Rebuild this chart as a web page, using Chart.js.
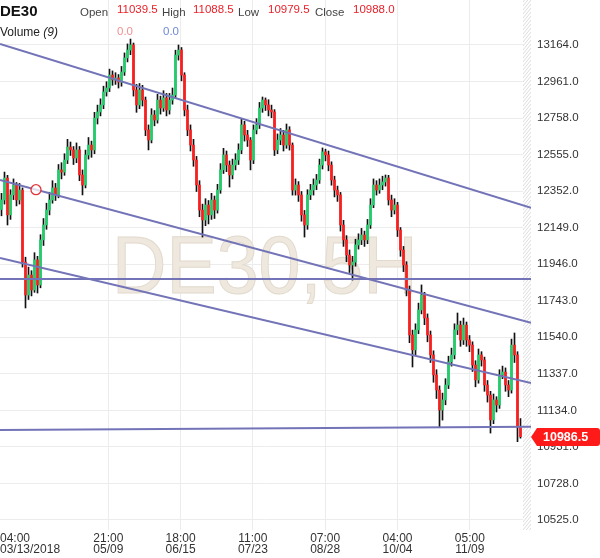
<!DOCTYPE html>
<html><head><meta charset="utf-8">
<script src="https://cdn.jsdelivr.net/npm/chart.js@4.4.0/dist/chart.umd.min.js"></script>
<style>html,body{margin:0;padding:0;background:#fff;}canvas{display:block;}</style>
</head><body>
<canvas id="c" width="600" height="558"></canvas>
<script>
const symbol = 'DE30';
const openVals = [
12250,12303,12425,12220,12331,12386,12303,12358,11958,11775,
11886,11803,11970,11831,12081,12164,12247,12303,12370,12331,
12470,12458,12525,12597,12581,12536,12581,12442,12386,12553,
12608,12581,12758,12792,12831,12903,12925,12997,12970,12981,
12958,13014,13092,13136,13164,12914,12831,12914,12858,12692,
12636,12775,12747,12858,12814,12870,12803,12858,12886,13108,
13136,12997,12803,12692,12608,12525,12386,12247,12192,12275,
12220,12303,12247,12358,12470,12553,12497,12442,12497,12525,
12581,12720,12664,12636,12525,12692,12720,12814,12858,12831,
12803,12792,12581,12636,12664,12608,12692,12608,12358,12386,
12331,12220,12164,12331,12358,12386,12414,12497,12570,12553,
12497,12414,12358,12331,12164,12081,11997,11942,11958,12053,
12081,12108,12081,12164,12275,12386,12358,12386,12403,12425,
12303,12247,12275,12136,12025,11942,11803,11553,11470,11581,
11692,11775,11647,11553,11442,11331,11247,11136,11192,11275,
11403,11442,11581,11608,11525,11608,11525,11497,11386,11303,
11442,11414,11275,11219,11081,11192,11164,11331,11347,11275,
11247,11497,11442,11039.5];
const highVals = [
12340,12458,12440,12360,12420,12400,12395,12370,11985,11930,
11910,12010,11990,12110,12200,12285,12345,12410,12395,12500,
12510,12560,12640,12625,12600,12620,12600,12470,12580,12650,
12630,12790,12830,12865,12935,12960,13030,13020,13010,13000,
13045,13120,13170,13197,13175,12945,12950,12940,12875,12720,
12810,12800,12890,12880,12910,12895,12895,12925,13135,13164,
13150,13010,12830,12720,12640,12545,12410,12280,12310,12300,
12340,12325,12390,12505,12590,12575,12520,12530,12560,12615,
12755,12740,12690,12650,12720,12755,12845,12875,12870,12860,
12830,12805,12670,12700,12690,12725,12710,12620,12420,12405,
12350,12245,12360,12390,12420,12445,12530,12592,12585,12575,
12515,12435,12380,12345,12190,12105,12025,11990,12085,12115,
12145,12130,12195,12310,12420,12410,12420,12435,12442,12440,
12330,12310,12290,12150,12045,11960,11825,11580,11615,11730,
11831,11790,11670,11575,11465,11360,11270,11230,11310,11435,
11480,11615,11675,11630,11647,11625,11550,11515,11410,11475,
11460,11430,11300,11240,11225,11210,11360,11380,11370,11300,
11530,11564,11460,11088.5];
const lowVals = [
12215,12280,12164,12195,12305,12270,12280,11930,11703,11750,
11770,11790,11786,11815,12050,12140,12220,12285,12300,12315,
12420,12440,12505,12550,12500,12510,12410,12331,12370,12530,
12540,12560,12725,12770,12810,12880,12905,12940,12945,12925,
12935,12995,13070,13110,12880,12790,12810,12825,12660,12581,
12620,12715,12730,12780,12795,12770,12780,12835,12870,13080,
12965,12770,12660,12575,12490,12350,12210,12097,12160,12170,
12195,12200,12230,12340,12450,12460,12375,12420,12470,12500,
12560,12630,12600,12470,12505,12670,12700,12790,12800,12770,
12760,12550,12560,12610,12575,12590,12580,12330,12330,12295,
12185,12097,12140,12305,12330,12360,12395,12475,12520,12465,
12385,12320,12295,12130,12045,11960,11900,11858,11935,12030,
12055,12045,12060,12145,12260,12330,12340,12360,12380,12275,
12210,12225,12100,11990,11905,11770,11510,11375,11440,11560,
11670,11610,11515,11400,11290,11200,11042,11080,11165,11255,
11380,11420,11555,11490,11500,11490,11460,11350,11265,11285,
11380,11240,11180,11008,11060,11125,11145,11310,11240,11210,
11230,11400,10960,10979.5];
const closeVals = [
12303,12425,12220,12331,12386,12303,12358,11958,11775,11886,
11803,11970,11831,12081,12164,12247,12303,12370,12331,12470,
12458,12525,12597,12581,12536,12581,12442,12386,12553,12608,
12581,12758,12792,12831,12903,12925,12997,12970,12981,12958,
13014,13092,13136,13164,12914,12831,12914,12858,12692,12636,
12775,12747,12858,12814,12870,12803,12858,12886,13108,13136,
12997,12803,12692,12608,12525,12386,12247,12192,12275,12220,
12303,12247,12358,12470,12553,12497,12442,12497,12525,12581,
12720,12664,12636,12525,12692,12720,12814,12858,12831,12803,
12792,12581,12636,12664,12608,12692,12608,12358,12386,12331,
12220,12164,12331,12358,12386,12414,12497,12570,12553,12497,
12414,12358,12331,12164,12081,11997,11942,11958,12053,12081,
12108,12081,12164,12275,12386,12358,12386,12403,12425,12303,
12247,12275,12136,12025,11942,11803,11553,11470,11581,11692,
11775,11647,11553,11442,11331,11247,11136,11192,11275,11403,
11442,11581,11608,11525,11608,11525,11497,11386,11303,11442,
11414,11275,11219,11081,11192,11164,11331,11347,11275,11247,
11497,11442,11039.5,10988];

const yTicks = [10525,10728,10931,11134,11337,11540,11743,11946,12149,12352,12555,12758,12961,13164];
const yMin = 10469.4, yMax = 13414;
const timeLabels = ['04:00','21:00','18:00','11:00','07:00','04:00','05:00'];
const dateLabels = ['03/13/2018','05/09','06/15','07/23','08/28','10/04','11/09'];
const labelPos = [-0.5, 35.6, 59.7, 83.8, 107.9, 132.0, 156.1];
const emptySlots = 3;
const trendStart = [13170, 12414, 11981, 11864, 11025];
const trendEnd   = [12260, 11620, 11286, 11864, 11043];
const handlePoint = {x: 11.5, y: 12360};
const lastQuote = {open: 11039.5, high: 11088.5, low: 10979.5, close: 10988.0};
const currentPrice = 10986.5;

const N = closeVals.length;
const slots = N + emptySlots;
const catLabels = Array.from({length: slots}, (_, i) => String(i));
const UP = '#1fcf6a', DOWN = '#ff1c1c';
const wickData = lowVals.map((l, i) => [l, highVals[i]]);
const bodyData = openVals.map((o, i) => [o, closeVals[i]]);
const bodyColors = openVals.map((o, i) => closeVals[i] >= o ? UP : DOWN);

const datasets = [
  {type:'bar', data: wickData, backgroundColor:'#111', barThickness:1, grouped:false, order:3, xAxisID:'x', yAxisID:'y'},
  {type:'bar', data: bodyData, backgroundColor: bodyColors, barThickness:2, grouped:false, order:2, xAxisID:'x', yAxisID:'y'}
];
trendStart.forEach((s, k) => {
  datasets.push({type:'line', xAxisID:'x2', yAxisID:'y', data:[{x:-0.5, y:s},{x:slots-0.5, y:trendEnd[k]}],
    borderColor:'#7373b8', borderWidth:2, pointRadius:0, fill:false, order:1});
});
datasets.push({type:'line', xAxisID:'x2', yAxisID:'y', data:[handlePoint], showLine:false,
  pointRadius:5, pointBorderColor:'#e3343a', pointBackgroundColor:'rgba(255,255,255,0.75)', pointBorderWidth:1.3, order:0});

const FONT = '"Liberation Sans", Arial, sans-serif';

const decor = {
  id:'decor',
  beforeDatasetsDraw(chart) {
    const {ctx, chartArea} = chart;
    const x0 = 523, x1 = chartArea.right;
    ctx.save();
    ctx.fillStyle = '#fff';
    ctx.fillRect(x0, chartArea.top, x1 - x0, chartArea.bottom - chartArea.top);
    ctx.beginPath(); ctx.rect(x0, chartArea.top, x1 - x0, chartArea.bottom - chartArea.top); ctx.clip();
    ctx.strokeStyle = '#dcdcdc'; ctx.lineWidth = 1;
    for (let y = chartArea.top - 20; y < chartArea.bottom + 20; y += 4) {
      ctx.beginPath(); ctx.moveTo(x0, y + 10); ctx.lineTo(x1, y); ctx.stroke();
    }
    ctx.restore();
    ctx.save();
    ctx.font = '81px ' + FONT;
    ctx.textBaseline = 'alphabetic';
    ctx.translate(112, 293);
    ctx.scale(0.93, 1);
    ctx.fillStyle = '#eee8de';
    ctx.fillText('DE30,5H', 0, 0);
    ctx.strokeStyle = '#e2dacd'; ctx.lineWidth = 1;
    ctx.strokeText('DE30,5H', 0, 0);
    ctx.restore();
  },
  afterDraw(chart) {
    const {ctx} = chart;
    const x2 = chart.scales.x2, y = chart.scales.y;
    ctx.save();
    ctx.font = '12px ' + FONT;
    ctx.fillStyle = '#333';
    ctx.textBaseline = 'alphabetic';
    labelPos.forEach((p, i) => {
      const px = x2.getPixelForValue(p);
      ctx.textAlign = i === 0 ? 'left' : 'center';
      const xx = i === 0 ? 0 : px;
      ctx.fillText(timeLabels[i], xx, 542);
      ctx.fillText(dateLabels[i], xx, 553);
    });
    ctx.restore();
    ctx.save();
    ctx.textBaseline = 'alphabetic';
    ctx.textAlign = 'left';
    ctx.font = 'bold 15px ' + FONT; ctx.fillStyle = '#111';
    ctx.fillText(symbol, 0, 16);
    ctx.font = '11.5px ' + FONT;
    const items = [['Open', 80, lastQuote.open, 117], ['High', 162, lastQuote.high, 193], ['Low', 238, lastQuote.low, 268], ['Close', 315, lastQuote.close, 353]];
    items.forEach(([t, tx, v, vx]) => {
      ctx.fillStyle = '#444'; ctx.fillText(t, tx, 16);
      ctx.fillStyle = '#e8222a'; ctx.fillText(v.toFixed(1), vx, 13);
    });
    ctx.font = '12px ' + FONT; ctx.fillStyle = '#222';
    ctx.fillText('Volume ', 0, 36);
    const w = ctx.measureText('Volume ').width;
    ctx.font = 'italic 12px ' + FONT;
    ctx.fillText('(9)', w, 36);
    ctx.font = '11.5px ' + FONT;
    ctx.fillStyle = '#f29090'; ctx.fillText('0.0', 117, 35);
    ctx.fillStyle = '#7088d8'; ctx.fillText('0.0', 163, 35);
    ctx.restore();
    const py = y.getPixelForValue(currentPrice);
    ctx.save();
    ctx.fillStyle = '#ff1a1a';
    ctx.beginPath();
    ctx.moveTo(531, py);
    ctx.lineTo(537, py - 9);
    ctx.lineTo(597, py - 9);
    ctx.quadraticCurveTo(600, py - 9, 600, py - 6);
    ctx.lineTo(600, py + 6);
    ctx.quadraticCurveTo(600, py + 9, 597, py + 9);
    ctx.lineTo(537, py + 9);
    ctx.closePath();
    ctx.fill();
    ctx.fillStyle = '#fff';
    ctx.font = 'bold 12.5px ' + FONT;
    ctx.textBaseline = 'middle';
    ctx.fillText(currentPrice.toFixed(1), 543, py + 0.5);
    ctx.restore();
  }
};

new Chart(document.getElementById('c'), {
  type: 'bar',
  data: { labels: catLabels, datasets },
  options: {
    responsive: false,
    animation: false,
    layout: { padding: 0, autoPadding: false },
    plugins: { legend: {display:false}, tooltip: {enabled:false}, title:{display:false} },
    scales: {
      x: { type:'category', display:false, offset:true },
      x2: { type:'linear', position:'bottom', min:-0.5, max:slots-0.5, offset:false,
        afterBuildTicks: s => { s.ticks = labelPos.slice(1).map(v => ({value:v})); },
        grid: { color:'#ececec', drawTicks:false, offset:false }, border:{display:false},
        ticks: { display:false },
        afterFit: s => { s.height = 28; s.paddingLeft = 0; s.paddingRight = 0; } },
      y: { position:'right', min:yMin, max:yMax,
        afterBuildTicks: s => { s.ticks = yTicks.map(v => ({value:v})); },
        ticks: { callback: v => Number(v).toFixed(1), color:'#333', font:{family:'Liberation Sans', size:11.5}, padding:6 },
        grid: { color:'#ececec', drawTicks:false }, border:{display:false},
        afterFit: s => { s.width = 69; s.paddingTop = 0; s.paddingBottom = 0; } }
    }
  },
  plugins: [decor]
});
</script>
</body></html>
